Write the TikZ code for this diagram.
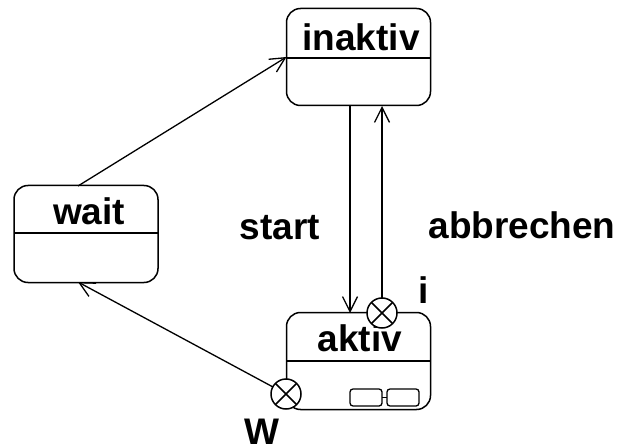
\documentclass[tikz,border=0pt]{standalone}
\usepackage{fontspec}
\setmainfont{Liberation Sans}
\usetikzlibrary{arrows.meta}
\begin{document}
\begin{tikzpicture}[x=1pt,y=-1pt,
  every node/.style={inner sep=0pt, outer sep=0pt},
  statebox/.style={draw, line width=1.5pt, rounded corners=14pt, minimum width=144pt, minimum height=97pt},
  divline/.style={line width=1.5pt},
  stname/.style={font=\fontsize{37}{37}\selectfont\bfseries},
  lbl/.style={font=\fontsize{37}{37}\selectfont\bfseries},
  conn/.style={line width=1.3pt, -{Straight Barb[length=15pt,width=15pt,line width=1.3pt]}},
  xpoint/.style={draw, circle, line width=1.5pt, minimum size=30pt, fill=white},
  minibox/.style={draw, line width=1.3pt, rounded corners=3pt}
]
\path[use as bounding box] (0,0) rectangle (626,446);

% states
\node[statebox] (inaktiv) at (358.5,57) {};
\draw[divline] (287,58) -- (430,58);
\node[stname] (inaktivname) at (361,37) {inaktiv};

\node[statebox] (wait) at (86,234) {};
\draw[divline] (14,233) -- (158,233);
\node[stname] (waitname) at (89,211) {wait};

\node[statebox] (aktiv) at (358.5,361) {};
\draw[divline] (286,361) -- (431,361);
\node[stname] (aktivname) at (360,338) {aktiv};

% decomposition icon
\draw[minibox] (350,389) rectangle (382,406);
\draw[minibox] (387,389) rectangle (419,406);
\draw[line width=1.3pt] (382,397.5) -- (387,397.5);

% connection points
\coordinate (waittop) at (78,186);
\coordinate (waitbot) at (78,282);
\coordinate (startA) at (350,106);
\coordinate (startB) at (350,313);
\coordinate (abbB) at (382,106);

\node[xpoint] (exitI) at (382,313) {};
\draw[line width=1.5pt] (exitI.45) -- (exitI.225) (exitI.135) -- (exitI.315);
\node[xpoint] (exitW) at (286,394) {};
\draw[line width=1.5pt] (exitW.45) -- (exitW.225) (exitW.135) -- (exitW.315);

% connectors
\draw[conn] (waittop) -- (inaktiv.west);
\draw[conn] (startA) -- (startB);
\draw[conn] (exitI) -- (abbB);
\draw[conn] (exitW) -- (waitbot);

% labels
\node[lbl] (lstart) at (280,228) {start};
\node[lbl] (labb) at (522,225) {abbrechen};
\node[lbl] (li) at (424,290) {i};
\node[lbl, anchor=south] (lW) at (262,444) {W};
\end{tikzpicture}
\end{document}
